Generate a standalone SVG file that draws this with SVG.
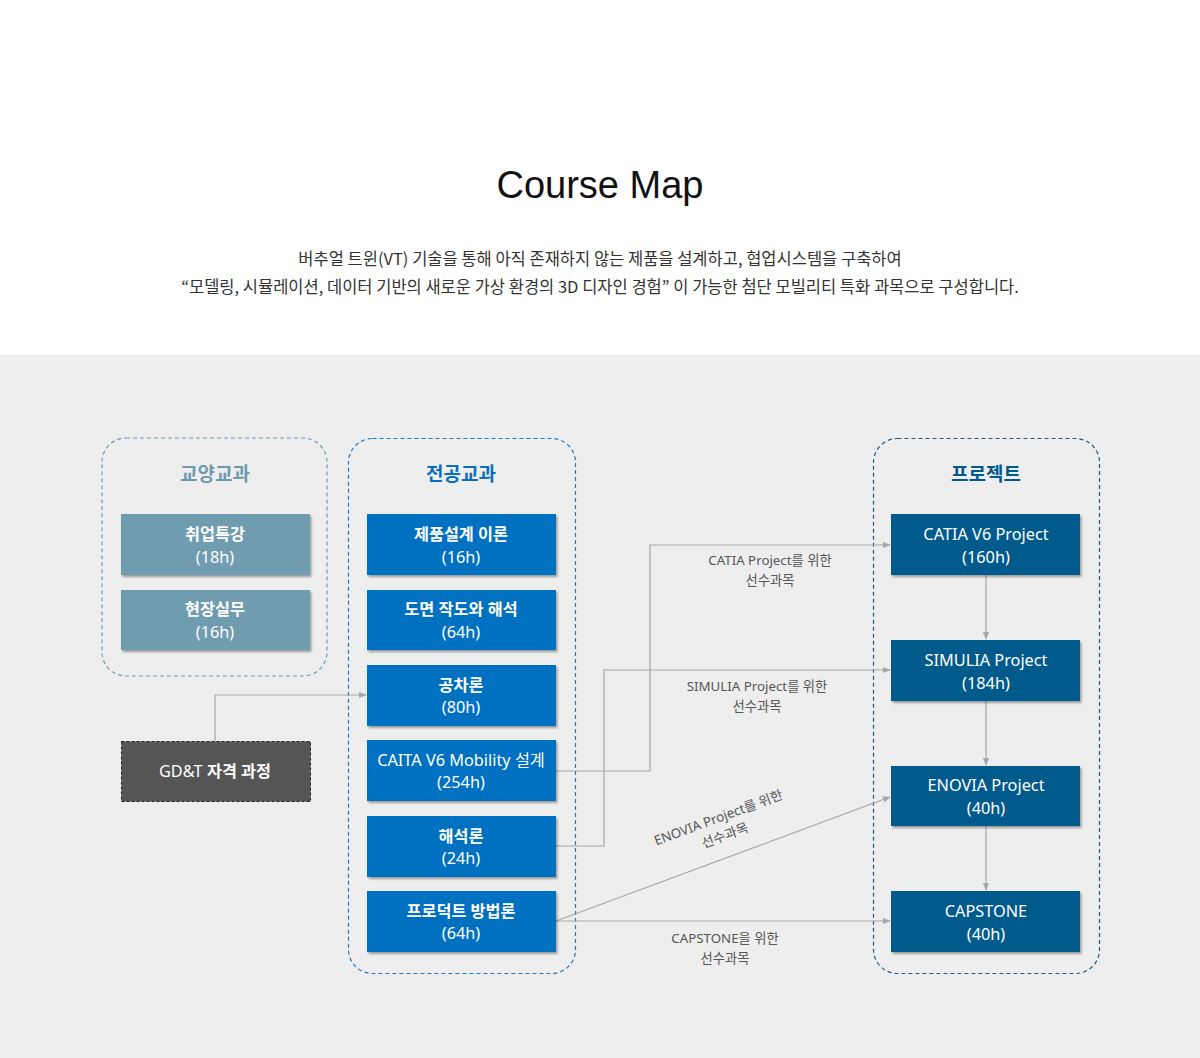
<svg xmlns="http://www.w3.org/2000/svg" width="1200" height="1058" viewBox="0 0 1200 1058">
<defs>
<filter id="sh" x="-10%" y="-10%" width="130%" height="140%">
<feDropShadow dx="1.5" dy="2" stdDeviation="1.2" flood-color="#000" flood-opacity="0.35"/>
</filter>
<marker id="arr" viewBox="0 0 10 10" refX="9" refY="5" markerWidth="8" markerHeight="8" markerUnits="userSpaceOnUse" orient="auto">
<path d="M0,1 L10,5 L0,9 z" fill="#a6a6a6"/>
</marker>
<style>
.ko{font-family:"Noto Sans CJK KR","Liberation Sans",sans-serif;}
.bt{font-family:"Noto Sans","Noto Sans CJK KR",sans-serif;font-size:16.3px;fill:#fff;text-anchor:middle;}
.b{font-weight:bold;}
.ga{fill:#6f9caf;filter:url(#sh);}
.ma{fill:#0070c0;filter:url(#sh);}
.pr{fill:#005a8c;filter:url(#sh);}
.lbl{font-family:"Noto Sans","Noto Sans CJK KR",sans-serif;font-size:13.3px;fill:#555;text-anchor:middle;}
.cn{fill:none;stroke:#a6a6a6;stroke-width:1.2;}
.gt{font-family:"Noto Sans CJK KR","Liberation Sans",sans-serif;font-size:19px;font-weight:bold;text-anchor:middle;}
</style>
</defs>
<rect x="0" y="0" width="1200" height="1058" fill="#ffffff"/>
<rect x="0" y="355" width="1200" height="703" fill="#eeeeee"/>

<g id="header">
<text x="600" y="198" font-family="Liberation Sans, Arial, sans-serif" font-size="38" text-anchor="middle" fill="#111">Course Map</text>
<text x="600" y="265" class="ko" font-size="16.5" text-anchor="middle" fill="#333">버추얼 트윈(VT) 기술을 통해 아직 존재하지 않는 제품을 설계하고, 협업시스템을 구축하여</text>
<text x="600" y="293" class="ko" font-size="16.5" text-anchor="middle" fill="#333">“모델링, 시뮬레이션, 데이터 기반의 새로운 가상 환경의 3D 디자인 경험” 이 가능한 첨단 모빌리티 특화 과목으로 구성합니다.</text>
</g>

<g id="group-general">
<rect x="102" y="438" width="225" height="238" rx="24" fill="none" stroke="#6f9caf" stroke-width="1.2" stroke-dasharray="4 3"/>
<text x="215" y="481" class="gt" fill="#6e9aae">교양교과</text>
</g>
<g id="group-major">
<rect x="348.5" y="438.5" width="227" height="535" rx="24" fill="none" stroke="#1a7ac8" stroke-width="1.2" stroke-dasharray="4 3"/>
<text x="461" y="481" class="gt" fill="#0a6ebd">전공교과</text>
</g>
<g id="group-project">
<rect x="873.5" y="438.5" width="226" height="535" rx="24" fill="none" stroke="#1d5a8a" stroke-width="1.2" stroke-dasharray="4 3"/>
<text x="986" y="481" class="gt" fill="#005a8c">프로젝트</text>
</g>

<g id="connectors">
<polyline class="cn" points="215,741 215,695 366,695" marker-end="url(#arr)"/>
<polyline class="cn" points="556,771 650,771 650,545 890,545" marker-end="url(#arr)"/>
<polyline class="cn" points="556,846 604,846 604,670 890,670" marker-end="url(#arr)"/>
<line class="cn" x1="556" y1="921" x2="890" y2="797" marker-end="url(#arr)"/>
<line class="cn" x1="556" y1="921" x2="890" y2="921" marker-end="url(#arr)"/>
<line class="cn" x1="986" y1="575" x2="986" y2="639" marker-end="url(#arr)"/>
<line class="cn" x1="986" y1="701" x2="986" y2="765" marker-end="url(#arr)"/>
<line class="cn" x1="986" y1="826" x2="986" y2="890" marker-end="url(#arr)"/>
<text class="lbl" x="770" y="565">CATIA Project를 위한</text>
<text class="lbl" x="770" y="585">선수과목</text>
<text class="lbl" x="757" y="691">SIMULIA Project를 위한</text>
<text class="lbl" x="757" y="711">선수과목</text>
<g transform="translate(720,822) rotate(-20.3)">
<text class="lbl" x="0" y="0">ENOVIA Project를 위한</text>
<text class="lbl" x="0" y="19">선수과목</text>
</g>
<text class="lbl" x="725" y="943">CAPSTONE을  위한</text>
<text class="lbl" x="725" y="963">선수과목</text>
</g>

<g id="n-job">
<rect class="ga" x="121" y="514" width="189" height="61"/>
<text class="bt b" x="215" y="540">취업특강</text>
<text class="bt" x="215" y="563">(18h)</text>
</g>
<g id="n-field">
<rect class="ga" x="121" y="590" width="189" height="60"/>
<text class="bt b" x="215" y="615">현장실무</text>
<text class="bt" x="215" y="638">(16h)</text>
</g>
<g id="n-gdt">
<rect x="121.5" y="741.5" width="189" height="60" fill="#555555" stroke="#222" stroke-width="1" stroke-dasharray="3 2"/>
<text class="bt" x="215" y="777">GD&amp;T <tspan font-weight="bold">자격 과정</tspan></text>
</g>

<g id="n-design">
<rect class="ma" x="367" y="514" width="189" height="61"/>
<text class="bt b" x="461" y="540">제품설계 이론</text>
<text class="bt" x="461" y="563">(16h)</text>
</g>
<g id="n-drawing">
<rect class="ma" x="367" y="590" width="189" height="60"/>
<text class="bt b" x="461" y="615">도면 작도와 해석</text>
<text class="bt" x="461" y="638">(64h)</text>
</g>
<g id="n-tolerance">
<rect class="ma" x="367" y="665" width="189" height="61"/>
<text class="bt b" x="461" y="691">공차론</text>
<text class="bt" x="461" y="713">(80h)</text>
</g>
<g id="n-caita">
<rect class="ma" x="367" y="740" width="189" height="61"/>
<text class="bt" x="461" y="766">CAITA V6 Mobility 설계</text>
<text class="bt" x="461" y="788">(254h)</text>
</g>
<g id="n-analysis">
<rect class="ma" x="367" y="816" width="189" height="61"/>
<text class="bt b" x="461" y="842">해석론</text>
<text class="bt" x="461" y="864">(24h)</text>
</g>
<g id="n-product">
<rect class="ma" x="367" y="891" width="189" height="61"/>
<text class="bt b" x="461" y="917">프로덕트 방법론</text>
<text class="bt" x="461" y="939">(64h)</text>
</g>

<g id="n-catia">
<rect class="pr" x="891" y="514" width="189" height="61"/>
<text class="bt" x="986" y="540" font-size="16.5">CATIA V6 Project</text>
<text class="bt" x="986" y="563">(160h)</text>
</g>
<g id="n-simulia">
<rect class="pr" x="891" y="640" width="189" height="61"/>
<text class="bt" x="986" y="666" font-size="16.5">SIMULIA Project</text>
<text class="bt" x="986" y="689">(184h)</text>
</g>
<g id="n-enovia">
<rect class="pr" x="891" y="766" width="189" height="60"/>
<text class="bt" x="986" y="791" font-size="16.5">ENOVIA Project</text>
<text class="bt" x="986" y="814">(40h)</text>
</g>
<g id="n-capstone">
<rect class="pr" x="891" y="891" width="189" height="61"/>
<text class="bt" x="986" y="917" font-size="16.5">CAPSTONE</text>
<text class="bt" x="986" y="940">(40h)</text>
</g>
</svg>
